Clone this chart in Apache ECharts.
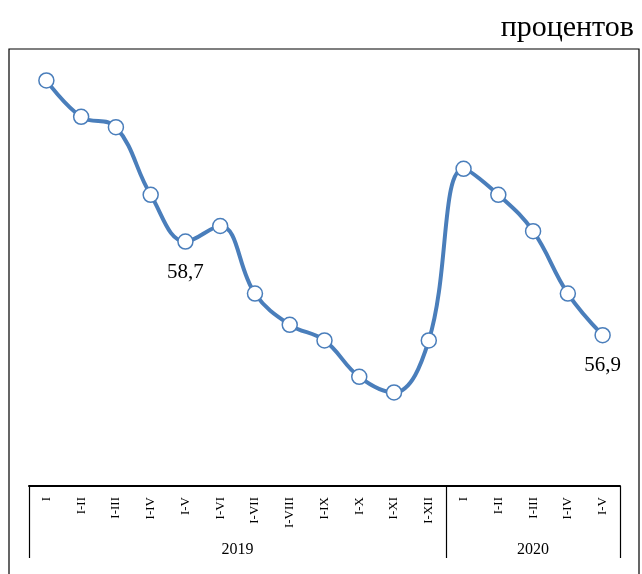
<!DOCTYPE html>
<html>
<head>
<meta charset="utf-8">
<script src="https://cdn.jsdelivr.net/npm/echarts@6/dist/echarts.min.js"></script>
<style>
  html, body { margin: 0; padding: 0; background: #fff; }
  #chart { width: 642px; height: 574px; }
</style>
</head>
<body>
<div id="chart"></div>
<script>
// periods (cumulative months), two years
const periods = ['I', 'I-II', 'I-III', 'I-IV', 'I-V', 'I-VI', 'I-VII', 'I-VIII', 'I-IX', 'I-X', 'I-XI', 'I-XII',
                 'I', 'I-II', 'I-III', 'I-IV', 'I-V'];
const values = [61.8, 61.1, 60.9, 59.6, 58.7, 59.0, 57.7, 57.1, 56.8, 56.1, 55.8, 56.8,
                60.1, 59.6, 58.9, 57.7, 56.9];
// only these points carry a value label
const labelled = [4, 16];
const years = ['2019', '2020'];
const yearSplit = 12; // first index of 2020

const lineColor = '#4a7ebb';
const serif = '"Liberation Serif", "Times New Roman", serif';

const chart = echarts.init(document.getElementById('chart'));

const seriesData = values.map((v, i) => {
  if (labelled.indexOf(i) < 0) return v;
  return {
    value: v,
    label: {
      show: true,
      position: 'bottom',
      distance: 12,
      fontFamily: serif,
      fontSize: 21,
      color: '#000',
      formatter: p => String(p.value).replace('.', ',')
    }
  };
});

// year label centres on the 0..n value scale
const n = periods.length;
const yearCentre = {};
yearCentre[yearSplit / 2] = years[0];
yearCentre[(yearSplit + n) / 2] = years[1];

const option = {
  animation: false,
  backgroundColor: '#fff',
  title: {
    text: 'процентов',
    right: 3,
    top: 8,
    textStyle: { fontFamily: serif, fontSize: 30, fontWeight: 'normal', color: '#000' }
  },
  graphic: [{
    type: 'rect',
    shape: { x: 9, y: 49, width: 630, height: 540 },
    style: { fill: 'none', stroke: '#000', lineWidth: 1.2 },
    silent: true
  }],
  grid: { left: 29, right: 22, top: 70, bottom: 88 },
  xAxis: [{
    type: 'category',
    data: periods,
    boundaryGap: true,
    axisLine: { lineStyle: { color: '#000', width: 2 } },
    axisTick: {
      show: true,
      interval: (i) => i === 0 || i === yearSplit,
      length: 72,
      lineStyle: { color: '#000', width: 1.2 }
    },
    axisLabel: {
      interval: 0,
      rotate: 90,
      margin: 11,
      fontFamily: serif,
      fontSize: 13,
      color: '#000'
    }
  }, {
    type: 'value',
    position: 'bottom',
    min: 0,
    max: n,
    interval: 0.5,
    offset: 50,
    axisLine: { show: false },
    axisTick: { show: false },
    splitLine: { show: false },
    axisLabel: {
      margin: 6,
      fontFamily: serif,
      fontSize: 16,
      color: '#000',
      showMinLabel: false,
      showMaxLabel: false,
      formatter: v => yearCentre[v] || ''
    }
  }],
  yAxis: {
    type: 'value',
    min: 54,
    max: 62,
    show: false
  },
  series: [{
    type: 'line',
    data: seriesData,
    smooth: 0.4,
    symbol: 'circle',
    symbolSize: 15,
    lineStyle: { color: lineColor, width: 4 },
    itemStyle: { color: '#fff', borderColor: lineColor, borderWidth: 1.5 },
    z: 3
  }]
};

chart.setOption(option);
</script>
</body>
</html>
